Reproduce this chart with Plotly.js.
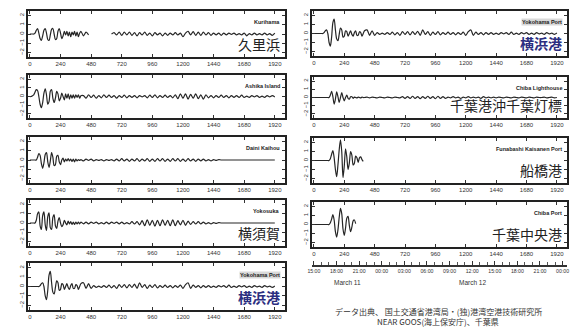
<!DOCTYPE html>
<html><head><meta charset="utf-8">
<script src="https://cdn.plot.ly/plotly-3.0.1.min.js"></script>
<style>html,body{margin:0;padding:0;background:#fff}#chart{width:572px;height:334px}</style>
</head><body><div id="chart"></div>
<script>
// time grid (minutes)
const T_EARLY = [0,10,20,30,40,50,60,70,80,90,100,110,120,130,140,150,160,170,180,190,200,210,220,230,240,250,260,270,280,290,300,310,320,330,340,350,360,370,380,390,400];
const T_LATE = [420,440,460,480,500,520,540,560,580,600,620,640,660,680,700,720,740,760,780,800,820,840,860,880,900,920,940,960,980,1000,1020,1040,1060,1080,1100,1120,1140,1160,1180,1200,1220,1240,1260,1280,1300,1320,1340,1360,1380,1400,1420,1440,1460,1480,1500,1520,1540,1560,1580,1600,1620,1640,1660,1680,1700,1720,1740,1760,1780,1800,1820,1840,1860,1880,1900,1920];
const T_ALL = T_EARLY.concat(T_LATE);

const kurihamaEarly = [0,0,0,0,0.1,0.4,0.6,0.1,-0.5,-0.7, -0.2,0.4,0.6,0.1,-0.6,-0.7,-0.1,0.5,0.6,0.0, -0.6,-0.5,0.3,0.6,0.1,-0.5,-0.2,0.3,-0.1,0.3, -0.2,0.2,-0.3,0.2,-0.1,0.3,-0.2,0.2,-0.3,0.1, 0.3];
const kurihamaLate = [-0.2,0.2,-0.1,null,null,null,null,null,null,null, null,0.0,0.15,-0.1,0.2,-0.15,0.2,-0.1,0.2,-0.15, 0.15,-0.2,0.15,-0.1,0.2,-0.15,0.1,-0.2,0.15,-0.1, 0.1,-0.2,0.1,-0.15,0.1,-0.1,0.15,-0.1,0.1,-0.3, 0.1,0.3,-0.1,0.25,-0.15,0.2,-0.15,0.2,-0.1,0.15, -0.15,0.1,-0.1,0.1,-0.15,0.1,-0.1,0.1,-0.05,0.1, -0.1,0.05,-0.1,0.1,-0.2,0.05,-0.1,0.1,-0.1,0.05, -0.1,0.1,-0.1,0.05,-0.15,0.1];

const ashikaEarly = [0,0,0.1,0.2,0.5,0.8,0.7,0.0,-0.9,-1.3, -0.7,0.4,0.9,0.2,-0.9,-0.6,0.6,0.8,-0.2,-0.7, -0.2,0.6,0.3,-0.5,-0.2,0.4,0.0,-0.4,0.3,-0.2, 0.3,-0.3,0.2,-0.2,0.2,-0.2,0.2,-0.1,0.2,-0.2, 0.1];
const ashikaLate = [0.1,-0.2,0.2,-0.1,0.15,-0.2,0.1,-0.15,0.2,-0.1, 0.15,-0.1,0.1,-0.2,0.1,-0.1,0.15,-0.15,0.1,-0.1, 0.1,-0.15,0.1,-0.05,0.1,-0.15,0.15,-0.1,0.2,-0.15, 0.1,-0.1,0.15,-0.1,0.1,-0.15,0.2,-0.25,0.3,-0.2, 0.3,-0.3,0.25,-0.2,0.3,-0.25,0.2,-0.3,0.2,-0.15, 0.1,-0.15,0.1,-0.1,0.15,-0.1,0.1,-0.15,0.1,-0.1, 0.1,-0.1,0.15,-0.1,0.05,-0.1,0.1,-0.05,0.1,-0.1, 0.05,-0.1,0.1,-0.05,0.1,-0.05];

const dainiEarly = [0,0,0,0,0,0,0.3,0.7,0.5,-0.4, -0.9,-0.3,0.6,0.8,-0.2,-0.8,-0.1,0.8,0.3,-0.6, -0.5,0.4,0.5,-0.2,-0.5,0.0,0.2,-0.2,0.1,-0.1, 0.15,-0.1,0.1,-0.15,0.1,-0.2,0.1,-0.1,0.05,-0.05, 0.05];
const dainiLate = [-0.1,0.1,-0.05,0.1,-0.1,0.05,-0.05,0.05,-0.1,0.05, -0.05,0.05,-0.1,0.1,-0.1,0.15,-0.1,0.1,-0.15,0.1, -0.1,0.15,-0.15,0.1,-0.1,0.15,-0.15,0.1,-0.15,0.15, -0.1,0.15,-0.15,0.1,-0.15,0.15,-0.1,0.15,-0.15,0.1, -0.15,0.15,-0.1,0.1,-0.15,0.1,-0.1,0.1,-0.1,0.05, -0.1,0.05,-0.05,0.05,0,0,0,0,0,0, 0,0,0,0,0,0,0,0,0,0, 0,0,0,0,0,0];

const yokosukaEarly = [0,0,0,0,0,0.3,1.0,1.2,-0.3,-0.7, 0.8,1.2,-0.2,-0.8,0.7,1.1,-0.5,-0.7,0.6,0.9, -0.3,-0.6,0.2,0.6,0.0,-0.4,-0.2,0.3,0.0,-0.2, 0.2,-0.1,0.15,-0.15,0.1,-0.15,0.1,-0.1,0.1,-0.1, 0.1];
const yokosukaLate = [-0.1,0.1,-0.1,0.1,-0.05,0.1,-0.1,0.05,-0.1,0.1, -0.1,0.1,-0.05,0.1,-0.1,0.1,-0.1,0.05,-0.1,0.15, -0.1,0.15,-0.2,0.25,-0.3,0.35,-0.25,0.3,-0.35,0.3, -0.3,0.35,-0.25,0.3,-0.3,0.35,-0.3,0.25,-0.2,0.3, -0.25,0.2,-0.15,0.15,-0.1,0.15,-0.1,0.1,-0.1,0.05, -0.1,0.05,-0.05,0.05,0,0,0,0,0,0, 0,0,0,0,0,0,0,0,0,0, 0,0,0,0,0,0];

const yokohamaEarly = [0,0,0,0,0,0,0,0,0.1,0.3, 0.4,0.0,-1.0,-1.4,-0.4,1.2,1.6,0.4,-0.6,-0.8, -0.1,0.6,0.4,-0.4,-0.3,0.3,0.2,-0.3,0.0,0.3, -0.1,-0.3,0.1,0.3,-0.2,-0.2,0.2,0.1,-0.3,0.0, 0.3];
const yokohamaLate = [0.4,-0.2,0.3,-0.2,0.1,-0.1,0.05,-0.1,0.1,-0.1, 0.15,-0.15,0.1,-0.2,0.2,-0.1,0.2,-0.15,0.2,-0.1, 0.25,-0.2,0.4,-0.1,0.2,-0.2,0.15,-0.1,0.2,-0.15, 0.1,-0.1,0.15,-0.1,0.1,-0.15,0.1,-0.1,0.15,-0.2, 0.2,0.4,-0.2,0.15,-0.1,0.1,-0.15,0.1,-0.1,0.1, -0.1,0.05,-0.1,0.1,-0.05,0.1,-0.1,0.15,-0.1,0.05, -0.1,0.1,-0.05,0.1,-0.1,0.05,-0.1,0.1,-0.05,0.05, -0.1,0.1,-0.05,0.05,-0.1,0.05];

const chibaLhEarly = [0,0,0,0,0,0,0,0,0,0, 0,0,0,0.3,0.75,0.1,-0.8,-0.2,0.7,0.1, -0.6,0.0,0.6,0.0,-0.4,0.0,0.3,-0.1,-0.2,0.1, 0.1,-0.1,0.05,0.0,-0.05,0.05,0.0,-0.05,0.05,0.0, 0.0];
const chibaLhLate = [0.05,-0.05,0.05,0,-0.05,0.05,0,-0.05,0.05,0, -0.05,0.05,0.0,-0.05,0.1,-0.1,0.1,-0.1,0.15,-0.1, 0.1,-0.15,0.1,-0.1,0.15,-0.1,0.1,-0.15,0.15,-0.1, 0.1,-0.1,0.05,-0.05,0.1,-0.05,0.05,-0.1,0.05,-0.05, 0.1,-0.05,0.05,-0.05,0.05,-0.1,0.1,-0.05,0.05,-0.05, 0.05,-0.05,0.05,0,-0.05,0.05,0,-0.05,0.05,0, -0.05,0.05,0,-0.05,0.05,0,-0.05,0.05,0,0, 0.05,-0.05,0,0.05,-0.05,0];

const funabashiVals = [0,0,0,0,0,0,0,0,0,0, 0,0,0,0.2,0.7,1.1,0.3,-1.0,-1.8,-0.5, 1.2,2.3,1.0,-1.9,-0.6,1.3,0.4,-1.0,-0.3,1.0, 0.6,-0.5,-0.3,0.5,0.3,-0.2,0.3,0.4,0.1,-0.1];
const chibaPortVals = [0,0,0,0,0,0,0,0,0,0, 0,0,0,0.2,0.6,1.1,0.5,-0.8,-1.4,-0.6, 0.8,1.8,1.2,-0.5,-1.2,-0.4,0.7,0.9,-0.1,-0.8, -0.3,0.4,0.5,0.1];

const namesEn = ["Kurihama","Ashika Island","Daini Kaihou","Yokosuka","Yokohama Port","Yokohama Port","Chiba Lighthouse","Funabashi Kaisanen Port","Chiba Port"];
const namesJa = ["久里浜","","","横須賀","横浜港","横浜港","千葉港沖千葉灯標","船橋港","千葉中央港"];
const xTickVals = [0,240,480,720,960,1200,1440,1680,1920];
const yTickVals = [-2,-1,0,1,2];
const timeTickVals = [0,180,360,540,720,900,1080,1260,1440,1620,1800,1980];
const timeTickText = ["15:00","18:00","21:00","00:00","03:00","06:00","09:00","12:00","15:00","18:00","21:00","00:00"];
const dateLabels = ["March 11","March 12"];
const dateLabelPos = [270,1260];
const sourceLines = ["データ出典、 国土交通省港湾局・(独)港湾空港技術研究所","NEAR GOOS(海上保安庁)、千葉県"];

const seriesY = [
  kurihamaEarly.concat(kurihamaLate),
  ashikaEarly.concat(ashikaLate),
  dainiEarly.concat(dainiLate),
  yokosukaEarly.concat(yokosukaLate),
  yokohamaEarly.concat(yokohamaLate),
  yokohamaEarly.concat(yokohamaLate),
  chibaLhEarly.concat(chibaLhLate),
  funabashiVals,
  chibaPortVals
];

const W = 572, H = 334;
const LX = [28,285], RX = [312,567];
const boxes = [
  [LX,11,57],[LX,75,118],[LX,137,183],[LX,200,246],[LX,263,310],
  [RX,11,56],[RX,77,118],[RX,138,183],[RX,202,247]
];

const traces = [];
const layout = {
  width: W, height: H, margin:{l:0,r:0,t:0,b:0},
  paper_bgcolor:'#fff', plot_bgcolor:'#fff', showlegend:false,
  font:{family:'Liberation Sans, Arial, sans-serif', color:'#333'},
  annotations:[]
};
boxes.forEach((b,i)=>{
  const n = i+1;
  const xa = 'xaxis'+(n===1?'':n), ya = 'yaxis'+(n===1?'':n);
  const xr = 'x'+(n===1?'':n), yr = 'y'+(n===1?'':n);
  traces.push({x:T_ALL, y:seriesY[i], xaxis:xr, yaxis:yr, type:'scatter', mode:'lines',
    line:{color:'#262626', width:1.2, shape:'spline', smoothing:0.8}, connectgaps:false, hoverinfo:'skip'});
  layout[xa] = {domain:[b[0][0]/W, b[0][1]/W], anchor:yr, range:[-15,2000], tickvals:xTickVals,
    ticks:'inside', ticklen:3, tickwidth:1, tickcolor:'#333', mirror:'ticks', showline:true, linewidth:1.6, linecolor:'#222',
    showgrid:false, zeroline:false, tickfont:{size:6, color:'#333'}, fixedrange:true};
  layout[ya] = {domain:[1-b[2]/H, 1-b[1]/H], anchor:xr, range:[-2.5,2.5], tickvals:yTickVals, tickangle:-90,
    ticks:'inside', ticklen:3, tickwidth:1, tickcolor:'#333', mirror:'ticks', showline:true, linewidth:1.6, linecolor:'#222',
    showgrid:false, zeroline:false, tickfont:{size:6, color:'#333'}, fixedrange:true};
  const highlight = (namesJa[i]==='横浜港');
  layout.annotations.push({xref:xr+' domain', yref:yr+' domain', x:0.985, y:0.84, xanchor:'right', yanchor:'top',
    text:'<b>'+namesEn[i]+'</b>', showarrow:false, font:{size:5.5, color:'#222'},
    bgcolor: highlight ? '#d9d9d9' : 'rgba(0,0,0,0)', borderpad:0});
  if (namesJa[i]) {
    layout.annotations.push({xref:xr+' domain', yref:yr+' domain', x:0.985, y:0.04, xanchor:'right', yanchor:'bottom',
      text: highlight ? '<b>'+namesJa[i]+'</b>' : namesJa[i], showarrow:false,
      font:{size:14, family:'Noto Sans CJK JP', color: highlight ? '#2b2e80' : '#222'}, borderpad:0});
  }
});
// time axis ruler under right column
traces.push({x:[0], y:[0], xaxis:'x10', yaxis:'y10', type:'scatter', mode:'markers', marker:{opacity:0}, hoverinfo:'skip'});
layout.xaxis10 = {domain:[RX[0]/W, RX[1]/W], anchor:'y10', range:[-15,2015], tickvals:timeTickVals, ticktext:timeTickText,
  ticks:'inside', ticklen:4, tickwidth:1, tickcolor:'#333', showline:true, linewidth:2, linecolor:'#333',
  minor:{dtick:60, tick0:0, ticks:'inside', ticklen:3, tickcolor:'#555', showgrid:false},
  showgrid:false, zeroline:false, tickfont:{size:5.2, color:'#333'}, fixedrange:true};
layout.yaxis10 = {domain:[1-265/H, 1-262/H], anchor:'x10', visible:false, range:[0,1], fixedrange:true};
dateLabels.forEach((d,k)=>{
  layout.annotations.push({xref:'x10', yref:'paper', x:dateLabelPos[k], y:1-282/H, text:d, showarrow:false,
    font:{size:6.5, color:'#333'}, xanchor:'center', yanchor:'middle'});
});
sourceLines.forEach((s,k)=>{
  layout.annotations.push({xref:'paper', yref:'paper', x:438/W, y:1-(311+k*10)/H, text:s, showarrow:false,
    font:{size:8, family:'Noto Sans CJK JP', color:'#333'}, xanchor:'center', yanchor:'middle'});
});

Plotly.newPlot('chart', traces, layout, {staticPlot:true, displayModeBar:false});
</script></body></html>
